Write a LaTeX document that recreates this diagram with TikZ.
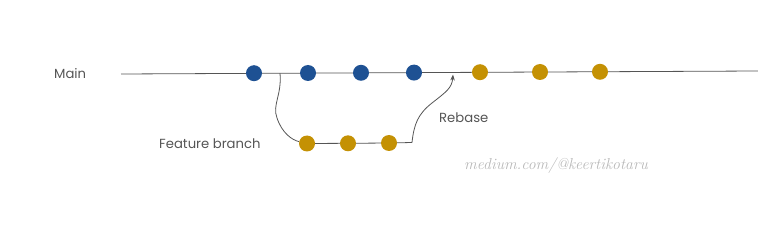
\documentclass[tikz,border=0pt]{standalone}
\usepackage{fontspec}
\setmainfont{Poppins}
\usetikzlibrary{arrows.meta}
\definecolor{cblue}{HTML}{1E5193}
\definecolor{cgold}{HTML}{C49104}
\definecolor{cline}{HTML}{555555}
\definecolor{ctext}{HTML}{555555}
\definecolor{cwm}{HTML}{B8B8B8}
\begin{document}
\begin{tikzpicture}[x=1pt,y=-1pt,
  bdot/.style={circle,fill=cblue,minimum size=16pt,inner sep=0pt},
  gdot/.style={circle,fill=cgold,minimum size=16pt,inner sep=0pt},
  conn/.style={draw=cline,line width=0.8pt},
  lbl/.style={font=\fontsize{13.2}{15}\selectfont,text=ctext,inner sep=0pt}]
\useasboundingbox (0,0) rectangle (758,235);
\coordinate (ms) at (121,74);
\coordinate (me) at (758,71);
\draw[conn] (ms) -- (me);
\node[bdot] (b1) at (254,73.2) {};
\node[bdot] (b2) at (308,73) {};
\node[bdot] (b3) at (361,72.8) {};
\node[bdot] (b4) at (414,72.6) {};
\node[gdot] (y1) at (480,72.2) {};
\node[gdot] (y2) at (540,72) {};
\node[gdot] (y3) at (600,71.8) {};
\node[lbl,anchor=west] (main) at (54,74) {Main};
\node[gdot] (f1) at (307,143.5) {};
\node[gdot] (f2) at (348,143.3) {};
\node[gdot] (f3) at (389,143) {};
\coordinate (bs) at (280,73.1);
\coordinate (fe) at (412,142.5);
\coordinate (at) at (453,74.5);
\draw[conn] (bs) .. controls (282,95) and (272,105) .. (277,118) .. controls (282,133) and (292,140) .. (f1);
\draw[conn] (f1) -- (f2) -- (f3) -- (fe);
\draw[conn,-{Stealth[length=6pt,width=4.5pt]}] (fe) .. controls (414,124) and (418,114) .. (432,103) .. controls (446,92) and (452,88) .. (at);
\node[lbl,anchor=west] (fb) at (159,144) {Feature branch};
\node[lbl,anchor=west] (rb) at (439,118) {Rebase};
\node[anchor=west,inner sep=0pt,text=cwm,font=\fontsize{15.8}{18}\selectfont] (wm) at (464,166) {\fontspec{Latin Modern Roman}\itshape medium.com/@keertikotaru};
\end{tikzpicture}
\end{document}
